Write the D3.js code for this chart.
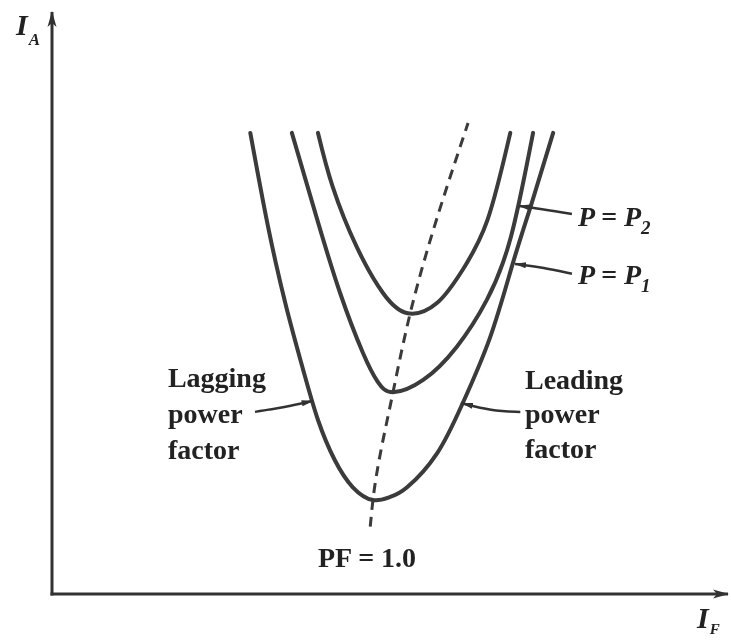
<!doctype html>
<html>
  <head>
    <title>Synchronous motor V curves</title>
    <meta charset="utf-8">
    <script src="https://d3js.org/d3.v7.min.js" charset="utf-8"></script>
    <style>
      body { margin: 0; background: #fff; }
      text { fill: #222; font-family: "Liberation Serif", "DejaVu Serif", serif; font-weight: bold; }
      .ital { font-style: italic; }
    </style>
  </head>
  <body>
    <div id="svgContainer"></div>
  </body>
  <script>
    // values, in arbitrary units (IF, IA) on 0..100
    var curveLow = [
      [29.6, 79.5], [32.2, 63.6], [34.9, 49.8], [37.5, 38.6], [39.7, 30.0],
      [42.2, 23.1], [44.9, 18.4], [47.9, 16.2], [50.4, 16.7], [53.0, 18.4],
      [57.5, 24.3], [61.3, 32.9], [65.4, 44.3], [68.8, 57.1], [71.6, 67.4],
      [74.8, 79.5]
    ];
    var curveMid = [
      [35.8, 79.5], [39.6, 64.5], [43.0, 51.9], [46.4, 41.6], [48.6, 36.6],
      [50.9, 34.8], [55.4, 36.9], [60.4, 42.6], [64.9, 50.7], [68.5, 61.6],
      [71.8, 79.5]
    ];
    var curveHigh = [
      [39.7, 79.5], [41.9, 70.2], [45.5, 59.8], [49.4, 51.9], [53.1, 48.4],
      [57.5, 50.2], [61.3, 55.9], [65.0, 64.5], [68.4, 79.5]
    ];
    var unityPF = [[47.5, 11.6], [47.9, 16.2], [50.9, 34.8], [53.4, 48.1], [62.1, 81.2]];

    var labels = [
      { lines: ["Lagging", "power", "factor"], at: [17.3, 35.7], step: 6.2 },
      { lines: ["Leading", "power", "factor"], at: [70.6, 35.4], step: 6.0 }
    ];
    var pLabels = [
      { text: "P = P", sub: "2", at: [78.5, 63.4] },
      { text: "P = P", sub: "1", at: [78.5, 53.4] }
    ];
    var leaders = [
      [[77.6, 65.5], [73.6, 66.3], [69.7, 66.9]],
      [[77.6, 55.2], [73.4, 56.3], [69.1, 56.9]],
      [[30.3, 31.4], [34.7, 32.2], [38.9, 33.3]],
      [[69.9, 31.4], [65.5, 31.6], [61.2, 32.9]]
    ];
    var pfLabel = { text: "PF = 1.0", at: [39.7, 4.7] };

    var width = 731,
      height = 641;

    var x = d3.scaleLinear().domain([0, 100]).range([52, 722]);
    var y = d3.scaleLinear().domain([0, 100]).range([594, 14]);

    var svg = d3.select("#svgContainer")
                .append("svg")
                .attr("width", width)
                .attr("height", height);

    var defs = svg.append("defs");
    defs.append("filter").attr("id", "soft")
        .append("feGaussianBlur").attr("stdDeviation", 0.45);

    defs.append("marker")
        .attr("id", "axisHead")
        .attr("viewBox", "0 0 16 10")
        .attr("refX", 15).attr("refY", 5)
        .attr("markerWidth", 16).attr("markerHeight", 10)
        .attr("markerUnits", "userSpaceOnUse")
        .attr("orient", "auto")
        .append("path")
        .attr("d", "M0,0.5 L16,5 L0,9.5 L4,5 Z")
        .attr("fill", "#333");

    defs.append("marker")
        .attr("id", "leadHead")
        .attr("viewBox", "0 0 12 8")
        .attr("refX", 11).attr("refY", 4)
        .attr("markerWidth", 12).attr("markerHeight", 8)
        .attr("markerUnits", "userSpaceOnUse")
        .attr("orient", "auto")
        .append("path")
        .attr("d", "M0,1 L12,4 L0,7 Z")
        .attr("fill", "#333");

    var group = svg.append("g").attr("filter", "url(#soft)");

    // axes, no ticks, just the arrowed lines
    var xAxis = d3.axisBottom(x).tickValues([]).tickSizeOuter(0);
    var yAxis = d3.axisLeft(y).tickValues([]).tickSizeOuter(0);

    var gx = group.append("g").attr("transform", "translate(0," + y(0) + ")").call(xAxis);
    var gy = group.append("g").attr("transform", "translate(" + x(0) + ",0)").call(yAxis);

    gx.select(".domain")
      .attr("d", "M" + (x(0) - 1.5) + ",0H" + (x(100) + 6))
      .attr("stroke", "#333").attr("stroke-width", 3)
      .attr("marker-end", "url(#axisHead)");
    gy.select(".domain")
      .attr("d", "M0," + (y(0) + 1.5) + "V" + (y(100) - 2))
      .attr("stroke", "#333").attr("stroke-width", 3)
      .attr("marker-end", "url(#axisHead)");

    var vLine = d3.line()
      .x(function(d) { return x(d[0]); })
      .y(function(d) { return y(d[1]); })
      .curve(d3.curveNatural);

    var pfLine = d3.line()
      .x(function(d) { return x(d[0]); })
      .y(function(d) { return y(d[1]); })
      .curve(d3.curveMonotoneY);

    group.selectAll("path.vcurve")
      .data([curveLow, curveMid, curveHigh])
      .enter()
      .append("path")
      .attr("class", "vcurve")
      .attr("d", vLine)
      .attr("fill", "none")
      .attr("stroke", "#3a3a3a")
      .attr("stroke-width", 4)
      .attr("stroke-linecap", "round");

    group.append("path")
      .attr("d", pfLine(unityPF))
      .attr("fill", "none")
      .attr("stroke", "#3a3a3a")
      .attr("stroke-width", 3)
      .attr("stroke-dasharray", "10,7");

    var leaderLine = d3.line()
      .x(function(d) { return x(d[0]); })
      .y(function(d) { return y(d[1]); })
      .curve(d3.curveBasis);

    group.selectAll("path.leader")
      .data(leaders)
      .enter()
      .append("path")
      .attr("class", "leader")
      .attr("d", leaderLine)
      .attr("fill", "none")
      .attr("stroke", "#333")
      .attr("stroke-width", 2.5)
      .attr("marker-end", "url(#leadHead)");

    // side labels
    labels.forEach(function(l) {
      var t = group.append("text")
        .attr("x", x(l.at[0]))
        .attr("y", y(l.at[1]))
        .attr("font-size", 28);
      l.lines.forEach(function(s, i) {
        t.append("tspan")
          .attr("x", x(l.at[0]))
          .attr("y", y(l.at[1] - i * l.step))
          .text(s);
      });
    });

    pLabels.forEach(function(l) {
      var t = group.append("text")
        .attr("class", "ital")
        .attr("x", x(l.at[0]))
        .attr("y", y(l.at[1]))
        .attr("font-size", 28)
        .text(l.text);
      t.append("tspan")
        .attr("font-size", 19)
        .attr("dy", 8)
        .text(l.sub);
    });

    group.append("text")
      .attr("x", x(pfLabel.at[0]))
      .attr("y", y(pfLabel.at[1]))
      .attr("font-size", 28)
      .text(pfLabel.text);

    // axis names
    var ia = group.append("text")
      .attr("class", "ital")
      .attr("x", x(0) - 36)
      .attr("y", y(100) + 21)
      .attr("font-size", 30)
      .text("I");
    ia.append("tspan").attr("font-size", 17).attr("dx", 1).attr("dy", 10).text("A");

    var iff = group.append("text")
      .attr("class", "ital")
      .attr("x", x(100) - 25)
      .attr("y", y(0) + 34)
      .attr("font-size", 30)
      .text("I");
    iff.append("tspan").attr("font-size", 15).attr("dx", 1).attr("dy", 6).text("F");
  </script>
</html>
